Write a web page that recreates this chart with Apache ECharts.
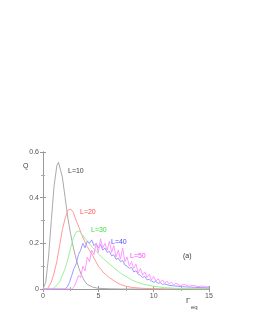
<!DOCTYPE html>
<html><head><meta charset="utf-8">
<script src="https://cdn.jsdelivr.net/npm/echarts@6/dist/echarts.min.js"></script>
<style>html,body{margin:0;padding:0;background:#fff}#c{width:253px;height:327px}</style>
</head><body><div id="c"></div>
<script>
var xTicks = [0, 5, 10, 15];
var yTicks = [0, 0.2, 0.4, 0.6];
var L10 = [[0,0],[0.25,0.03],[0.5,0.14],[0.75,0.3],[1.0,0.45],[1.25,0.54],[1.4,0.555],[1.5,0.55],[1.75,0.49],[2.0,0.4],[2.25,0.31],[2.5,0.24],[2.75,0.18],[3.0,0.13],[3.25,0.09],[3.5,0.058],[3.75,0.035],[4.0,0.02],[4.5,0.008],[5.0,0.003],[6.0,0.001],[7.0,0],[15,0]];
var L20 = [[0,0],[0.4,0],[0.75,0.03],[1.0,0.07],[1.25,0.12],[1.5,0.19],[1.75,0.26],[2.0,0.31],[2.25,0.345],[2.5,0.35],[2.75,0.335],[3.0,0.3],[3.25,0.27],[3.5,0.237],[3.75,0.21],[4.0,0.185],[4.5,0.145],[5.0,0.1],[5.5,0.07],[6.0,0.05],[6.5,0.033],[7.0,0.02],[7.5,0.012],[8.0,0.007],[9.0,0.003],[10.0,0.001],[11,0],[15,0]];
var L30 = [[0,0],[0.8,0],[1.0,0.005],[1.5,0.03],[2.0,0.09],[2.25,0.13],[2.5,0.18],[2.75,0.225],[3.0,0.25],[3.25,0.255],[3.5,0.24],[4.0,0.21],[4.5,0.18],[5.0,0.155],[5.5,0.13],[6.0,0.11],[6.5,0.09],[7.0,0.07],[7.5,0.055],[8.0,0.04],[8.5,0.03],[9.0,0.022],[10.0,0.012],[11.0,0.006],[12.0,0.003],[13.0,0.002],[15.0,0.001]];
var L40 = [[0,0],[2.0,0],[2.2,0.01],[2.4,0.03],[2.6,0.06],[2.8,0.09],[3.0,0.11],[3.2,0.15],[3.4,0.17],[3.6,0.2],[3.8,0.18],[4.0,0.21],[4.2,0.2],[4.4,0.215],[4.6,0.19],[4.8,0.2],[5.0,0.18],[5.2,0.195],[5.4,0.17],[5.6,0.18],[5.8,0.16],[6.0,0.165],[6.2,0.145],[6.4,0.15],[6.6,0.13],[6.8,0.135],[7.0,0.12],[7.2,0.125],[7.4,0.105],[7.6,0.1],[7.8,0.09],[8.0,0.095],[8.2,0.075],[8.4,0.08],[8.6,0.065],[8.8,0.06],[9.0,0.05],[9.2,0.055],[9.4,0.04],[9.6,0.042],[9.8,0.035],[10.0,0.03],[10.2,0.033],[10.4,0.025],[10.6,0.028],[10.8,0.02],[11.0,0.022],[11.4,0.016],[11.8,0.014],[12.2,0.012],[12.6,0.01],[13.0,0.009],[13.4,0.008],[13.8,0.007],[14.2,0.006],[14.6,0.006],[15.0,0.005]];
var L50 = [[0,0],[2.6,0],[2.8,0.01],[3.0,0.03],[3.2,0.06],[3.4,0.05],[3.6,0.1],[3.8,0.08],[4.0,0.14],[4.2,0.12],[4.4,0.17],[4.6,0.15],[4.8,0.2],[5.0,0.16],[5.2,0.22],[5.4,0.18],[5.6,0.2],[5.8,0.17],[6.0,0.21],[6.2,0.16],[6.4,0.19],[6.6,0.14],[6.8,0.17],[7.0,0.13],[7.2,0.18],[7.4,0.12],[7.6,0.14],[7.8,0.1],[8.0,0.12],[8.2,0.09],[8.4,0.11],[8.6,0.07],[8.8,0.09],[9.0,0.06],[9.2,0.075],[9.4,0.05],[9.6,0.065],[9.8,0.04],[10.0,0.055],[10.2,0.035],[10.4,0.045],[10.6,0.03],[10.8,0.04],[11.0,0.025],[11.2,0.035],[11.4,0.022],[11.6,0.03],[11.8,0.018],[12.0,0.025],[12.4,0.015],[12.8,0.02],[13.2,0.012],[13.6,0.016],[14.0,0.01],[14.4,0.013],[14.8,0.009],[15.0,0.012]];
var seriesNames = ['L=10','L=20','L=30','L=40','L=50'];
var seriesData = [L10, L20, L30, L40, L50];
var lineColors = ['#aaaaaa','#ff9a9a','#9af09a','#9a9aff','#ff9aff'];

var chart = echarts.init(document.getElementById('c'));
var FONT = 'Liberation Sans, Arial, sans-serif';
var axisLine = {show: true, lineStyle: {color: '#999', width: 1}};
var tickStyle = {show: true, inside: true, length: 3, lineStyle: {color: '#999'}};
var minorStyle = {show: true, splitNumber: 2, length: 2, lineStyle: {color: '#aaa'}};
var labelStyle = {color: '#555', fontSize: 7, fontFamily: FONT};
var series = seriesData.map(function (d, i) {
  return {
    name: seriesNames[i], type: 'line', data: d, showSymbol: false,
    lineStyle: {color: lineColors[i], width: 1}, itemStyle: {color: lineColors[i]},
    animation: false, silent: true, xAxisIndex: 0, yAxisIndex: 0
  };
});
chart.setOption({
  animation: false,
  grid: {left: 43, top: 152, right: 44, bottom: 38},
  xAxis: [
    {type: 'value', min: 0, max: 15, interval: 5, position: 'bottom', axisLine: axisLine,
     axisTick: tickStyle, minorTick: minorStyle, splitLine: {show: false},
     axisLabel: Object.assign({margin: 4, formatter: function (v) { return xTicks.indexOf(v) >= 0 ? String(v) : ''; }}, labelStyle)},
    {type: 'value', min: 0, max: 15, interval: 5, position: 'top', axisLine: axisLine,
     axisTick: tickStyle, minorTick: minorStyle, splitLine: {show: false}, axisLabel: {show: false}}
  ],
  yAxis: [
    {type: 'value', min: 0, max: 0.6, interval: 0.2, position: 'left', axisLine: axisLine,
     axisTick: tickStyle, minorTick: minorStyle, splitLine: {show: false},
     axisLabel: Object.assign({margin: 4, formatter: function (v) { var r = Math.round(v * 10) / 10; return yTicks.indexOf(r) >= 0 ? String(r) : ''; }}, labelStyle)},
    {type: 'value', min: 0, max: 0.6, interval: 0.2, position: 'right', axisLine: axisLine,
     axisTick: tickStyle, minorTick: minorStyle, splitLine: {show: false}, axisLabel: {show: false}}
  ],
  series: series,
  graphic: [
    {type: 'text', left: 23, top: 163, style: {text: 'Q', fill: '#444', font: '7px ' + FONT}},
    {type: 'text', left: 186, top: 297, style: {text: 'Γ', fill: '#444', font: '8px ' + FONT}},
    {type: 'text', left: 191, top: 304, style: {text: 'eq', fill: '#444', font: '6px ' + FONT}},
    {type: 'text', left: 68, top: 168, style: {text: 'L=10', fill: '#444', font: '7px ' + FONT}},
    {type: 'text', left: 80, top: 209, style: {text: 'L=20', fill: '#ff5050', font: '7px ' + FONT}},
    {type: 'text', left: 91, top: 227, style: {text: 'L=30', fill: '#40dd40', font: '7px ' + FONT}},
    {type: 'text', left: 111, top: 239, style: {text: 'L=40', fill: '#4a4aff', font: '7px ' + FONT}},
    {type: 'text', left: 130, top: 253, style: {text: 'L=50', fill: '#ff45ff', font: '7px ' + FONT}},
    {type: 'text', left: 183, top: 253, style: {text: '(a)', fill: '#333', font: '7px ' + FONT}}
  ]
});
</script></body></html>
